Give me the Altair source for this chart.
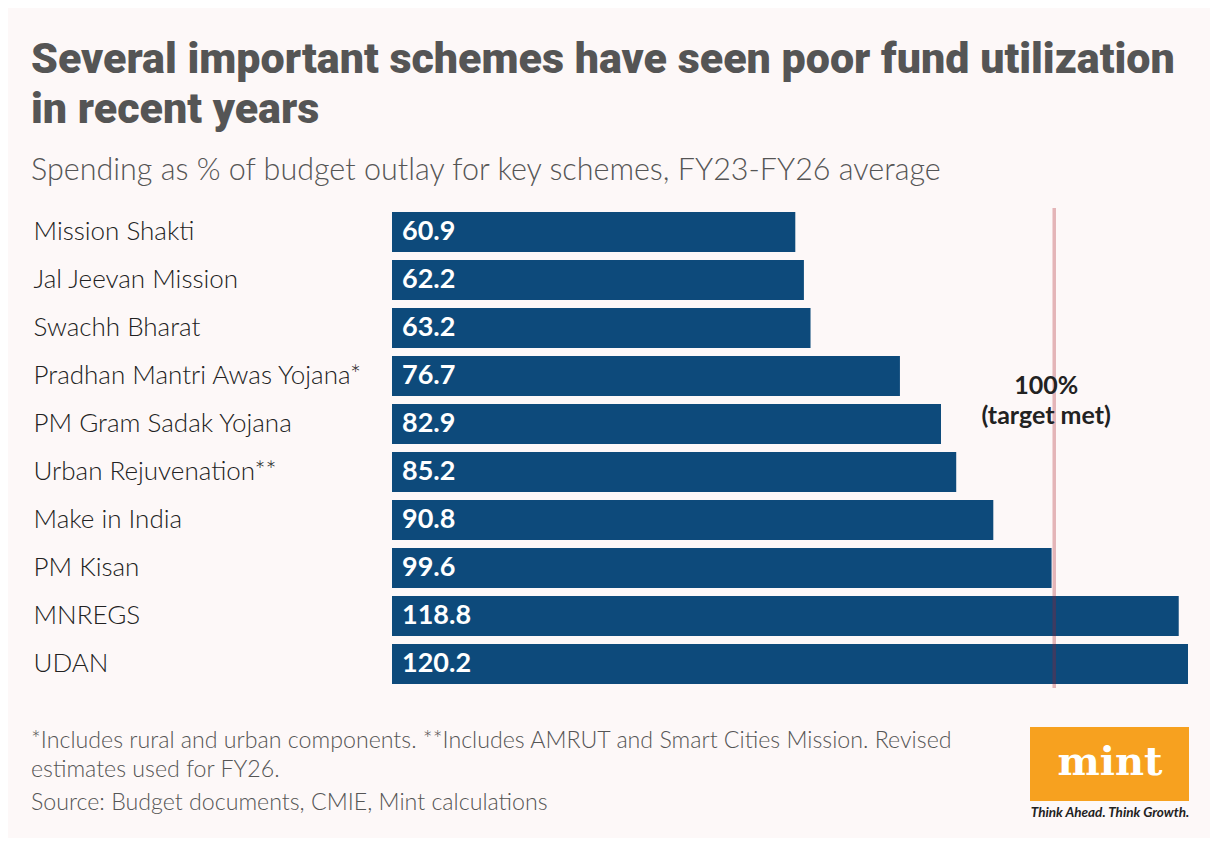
import altair as alt
import pandas as pd

schemes = [
    "Mission Shakti",
    "Jal Jeevan Mission",
    "Swachh Bharat",
    "Pradhan Mantri Awas Yojana*",
    "PM Gram Sadak Yojana",
    "Urban Rejuvenation**",
    "Make in India",
    "PM Kisan",
    "MNREGS",
    "UDAN",
]
values = [60.9, 62.2, 63.2, 76.7, 82.9, 85.2, 90.8, 99.6, 118.8, 120.2]
target = 100
target_label = ["100%", "(target met)"]

title_lines = ["Several important schemes have seen poor fund utilization", "in recent years"]
subtitle = "Spending as % of budget outlay for key schemes, FY23-FY26 average"
note_lines = [
    "*Includes rural and urban components. **Includes AMRUT and Smart Cities Mission. Revised",
    "estimates used for FY26.",
]
source = "Source: Budget documents, CMIE, Mint calculations"
logo_text = "mint"
tagline = "Think Ahead. Think Growth."

BG = "#fdf8f8"
BAR = "#0d4a7b"
FONT = "Lato"

df = pd.DataFrame({"scheme": schemes, "value": values})
df["label"] = [f"{v:.1f}" for v in values]

x_scale = alt.Scale(domain=[0, 120.2], nice=False, zero=True)
y_enc = alt.Y(
    "scheme:N",
    sort=schemes,
    scale=alt.Scale(paddingInner=1 / 6, paddingOuter=1 / 12),
    axis=alt.Axis(
        title=None,
        domain=False,
        ticks=False,
        labelAlign="left",
        labelPadding=359,
        labelLimit=500,
        labelFontSize=26,
        labelFont=FONT,
        labelColor="#222222",
        labelFontWeight=300,
    ),
)

base = alt.Chart(df)

bars = base.mark_bar(color=BAR, cornerRadius=0).encode(
    x=alt.X("value:Q", scale=x_scale, axis=None),
    y=y_enc,
)

labels = base.mark_text(
    align="left", baseline="middle", dx=10, fontSize=27, fontWeight="bold", font=FONT, color="white"
).encode(
    x=alt.datum(0, scale=x_scale),
    y=alt.Y("scheme:N", sort=schemes),
    text="label:N",
)

rule_df = pd.DataFrame({"t": [target]})
rule = alt.Chart(rule_df).mark_rule(color="#ad1926", opacity=0.3, strokeWidth=3.5).encode(
    x=alt.X("t:Q", scale=x_scale)
)

ann_df = pd.DataFrame({"t": [target], "scheme": [schemes[4]]})
ann = alt.Chart(ann_df).mark_text(
    align="center", baseline="middle", dx=-8, dy=-18, fontSize=25, fontWeight="bold",
    font=FONT, color="#222222", lineHeight=30,
).encode(
    x=alt.X("t:Q", scale=x_scale),
    y=alt.Y("scheme:N", sort=schemes, bandPosition=0),
    text=alt.value(target_label),
)

notes_df = pd.DataFrame({"txt": note_lines + [source], "yy": [540, 569, 602]})
notes = alt.Chart(notes_df).mark_text(
    align="left", baseline="alphabetic", fontSize=23.2, font=FONT, color="#555555", fontWeight=300
).encode(
    x=alt.value(-361),
    y=alt.Y("yy:Q", scale=None),
    text="txt:N",
)

logo_box = alt.Chart(pd.DataFrame({"a": [1]})).mark_rect(color="#f7a11f").encode(
    x=alt.value(638), x2=alt.value(797), y=alt.value(519), y2=alt.value(593)
)
logo_txt = alt.Chart(pd.DataFrame({"a": [1]})).mark_text(
    text=logo_text, align="center", baseline="alphabetic", font="DejaVu Serif", fontWeight="bold",
    fontSize=40, color="white",
).encode(x=alt.value(718), y=alt.value(567))
tag_txt = alt.Chart(pd.DataFrame({"a": [1]})).mark_text(
    text=tagline, align="center", baseline="alphabetic", font=FONT, fontStyle="italic",
    fontWeight="bold", fontSize=13.5, color="#222222",
).encode(x=alt.value(718), y=alt.value(609))

chart = (
    alt.layer(bars, rule, labels, ann, notes, logo_box, logo_txt, tag_txt)
    .properties(
        width=796,
        height=480,
        background=BG,
        padding={"left": 384, "top": 200, "right": 22, "bottom": 150},
        autosize=alt.AutoSizeParams(type="none"),
        title=alt.TitleParams(
            text=title_lines,
            subtitle=subtitle,
            anchor="start",
            frame="group",
            dx=-361,
            offset=20,
            font="Roboto",
            fontSize=43,
            fontWeight=900,
            color="#555555",
            lineHeight=50,
            subtitleFont=FONT,
            subtitleFontSize=30.5,
            subtitleFontWeight=300,
            subtitleColor="#555555",
            subtitlePadding=24,
        ),
    )
    .configure_view(stroke=None)
)

chart.save("out.html", embed_options={"renderer": "svg", "actions": False})
